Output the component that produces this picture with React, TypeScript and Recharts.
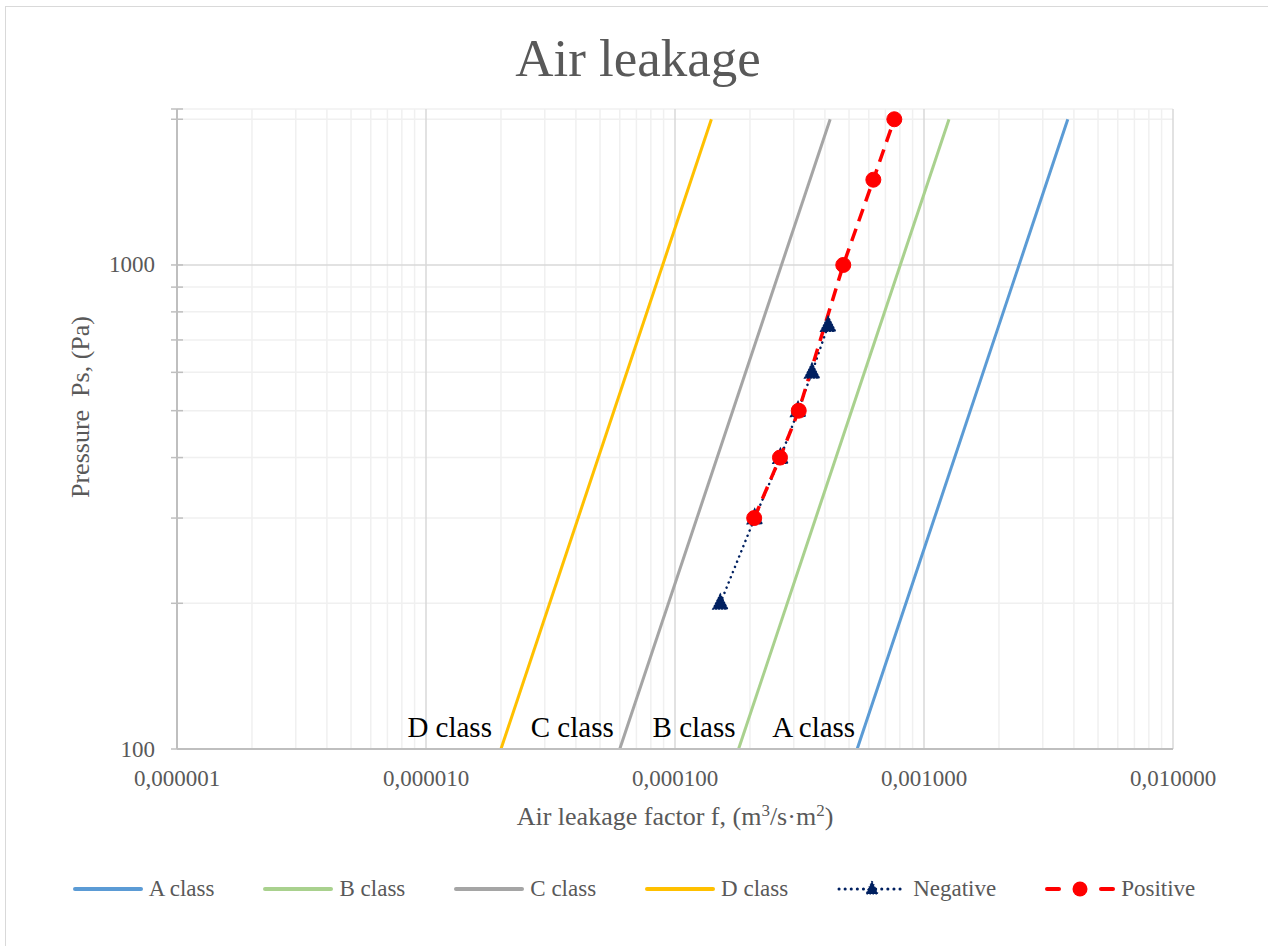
import React from 'react';
import { LineChart, Line, XAxis, YAxis, ReferenceLine } from 'recharts';

// ---------- data ----------
const aClass = [
  { f: 0.000539, p: 100 },
  { f: 0.00378, p: 2000 },
];
const bClass = [
  { f: 0.00018, p: 100 },
  { f: 0.00126, p: 2000 },
];
const cClass = [
  { f: 0.00006, p: 100 },
  { f: 0.00042, p: 2000 },
];
const dClass = [
  { f: 0.00002, p: 100 },
  { f: 0.00014, p: 2000 },
];
const negative = [
  { f: 0.000152, p: 200 },
  { f: 0.000209, p: 300 },
  { f: 0.000265, p: 400 },
  { f: 0.000312, p: 500 },
  { f: 0.000355, p: 600 },
  { f: 0.000412, p: 750 },
];
const positive = [
  { f: 0.000208, p: 300 },
  { f: 0.000264, p: 400 },
  { f: 0.000314, p: 500 },
  { f: 0.000474, p: 1000 },
  { f: 0.000626, p: 1500 },
  { f: 0.00076, p: 2000 },
];

const xMajorTicks = [0.000001, 0.00001, 0.0001, 0.001, 0.01];
const xMajorGrid = [0.00001, 0.0001, 0.001, 0.01];
const xMinorGrid = [
  0.000002, 0.000003, 0.000004, 0.000005, 0.000006, 0.000007, 0.000008, 0.000009,
  0.00002, 0.00003, 0.00004, 0.00005, 0.00006, 0.00007, 0.00008, 0.00009,
  0.0002, 0.0003, 0.0004, 0.0005, 0.0006, 0.0007, 0.0008, 0.0009,
  0.002, 0.003, 0.004, 0.005, 0.006, 0.007, 0.008, 0.009,
];
const yTicks = [100, 200, 300, 400, 500, 600, 700, 800, 900, 1000, 2000, 2100];
const yLabeled = [100, 1000];
const yMajorGrid = [1000];
const yMinorGrid = [200, 300, 400, 500, 600, 700, 800, 900, 2000, 2100];

const legendItems = [
  { name: 'A class', color: '#5B9BD5', kind: 'solid' },
  { name: 'B class', color: '#A9D18E', kind: 'solid' },
  { name: 'C class', color: '#A5A5A5', kind: 'solid' },
  { name: 'D class', color: '#FFC000', kind: 'solid' },
  { name: 'Negative', color: '#002060', kind: 'negative' },
  { name: 'Positive', color: '#FF0000', kind: 'positive' },
];

// ---------- styles ----------
const FONT = "'Times New Roman', 'Liberation Serif', serif";
const GREY_TEXT = '#595959';

const fmtX = (v: number) => v.toFixed(6).replace('.', ',');

const XTick = (props: any) => {
  const { x, y, payload } = props;
  return (
    <text x={x} y={y + 29} textAnchor="middle" dominantBaseline="central" fontFamily={FONT} fontSize={23} fill={GREY_TEXT}>
      {fmtX(payload.value)}
    </text>
  );
};

const YTick = (props: any) => {
  const { x, y, payload } = props;
  const show = yLabeled.includes(payload.value);
  return (
    <g>
      <line x1={x - 6} x2={x + 6} y1={y} y2={y} stroke="#bfbfbf" strokeWidth={1.5} />
      {show && (
        <text x={x - 22} y={y} textAnchor="end" dominantBaseline="central" fontFamily={FONT} fontSize={23} fill={GREY_TEXT}>
          {payload.value}
        </text>
      )}
    </g>
  );
};

const classLabel = (text: string, gap: number) => (props: any) => {
  const { x, y, index } = props;
  if (index !== 0) return null;
  return (
    <text key={text} x={x - gap} y={y - 12} textAnchor="end" fontFamily={FONT} fontSize={29} fill="#000000">
      {text}
    </text>
  );
};

const TriangleDot = (props: any) => {
  const { cx, cy, index } = props;
  if (cx == null || cy == null) return null;
  return (
    <polygon
      key={'t' + index}
      points={`${cx},${cy - 8.5} ${cx - 7},${cy + 5.5} ${cx + 7},${cy + 5.5}`}
      fill="#002060"
      stroke="#002060"
      strokeWidth={2}
      strokeDasharray="1 2"
      strokeLinecap="round"
    />
  );
};

const CircleDot = (props: any) => {
  const { cx, cy, index } = props;
  if (cx == null || cy == null) return null;
  return <circle key={'c' + index} cx={cx} cy={cy} r={7.5} fill="#FF0000" stroke="#FF0000" strokeWidth={1} />;
};

const LegendSample = ({ item }: { item: any }) => {
  return (
    <svg width={70} height={20} style={{ display: 'block' }}>
      {item.kind === 'solid' && (
        <line x1={2} x2={68} y1={10} y2={10} stroke={item.color} strokeWidth={4} strokeLinecap="round" />
      )}
      {item.kind === 'negative' && (
        <g>
          <line x1={2} x2={68} y1={10} y2={10} stroke={item.color} strokeWidth={3} strokeDasharray="0.1 6" strokeLinecap="round" />
          <polygon points="35,2 29,15 41,15" fill={item.color} stroke={item.color} strokeWidth={1.5} strokeDasharray="1 2" />
        </g>
      )}
      {item.kind === 'positive' && (
        <g>
          <line x1={2} x2={14} y1={10} y2={10} stroke={item.color} strokeWidth={4} strokeLinecap="round" />
          <line x1={56} x2={68} y1={10} y2={10} stroke={item.color} strokeWidth={4} strokeLinecap="round" />
          <circle cx={35} cy={10} r={7.5} fill={item.color} />
        </g>
      )}
    </svg>
  );
};

export default function App() {
  return (
    <div style={{ position: 'absolute', left: 0, top: 0, width: 1268, height: 946, background: '#ffffff', fontFamily: FONT }}>
      <div
        style={{
          position: 'absolute',
          left: 5,
          top: 6,
          width: 1263,
          height: 940,
          borderLeft: '1.5px solid #d9d9d9',
          borderTop: '1.5px solid #d9d9d9',
          boxSizing: 'border-box',
        }}
      />
      <div
        style={{
          position: 'absolute',
          left: 0,
          top: 28,
          width: 1276,
          textAlign: 'center',
          fontSize: 53,
          color: GREY_TEXT,
          fontFamily: FONT,
          lineHeight: '60px',
        }}
      >
        Air leakage
      </div>
      <div style={{ position: 'absolute', left: 0, top: 0 }}>
        <LineChart width={1268} height={946} margin={{ top: 109, right: 95, bottom: 137, left: 0 }}>
          <XAxis
            dataKey="f"
            type="number"
            scale="log"
            domain={[0.000001, 0.01]}
            ticks={xMajorTicks}
            allowDataOverflow
            interval={0}
            height={60}
            tickSize={0}
            tickMargin={0}
            tickLine={false}
            axisLine={{ stroke: '#bfbfbf', strokeWidth: 2 }}
            tick={<XTick />}
            label={{
              content: (lp: any) => {
                const vb = lp.viewBox || { x: 177, y: 749, width: 996 };
                return (
                  <text x={vb.x + vb.width / 2} y={vb.y + 76} textAnchor="middle" fontFamily={FONT} fontSize={26} fill={GREY_TEXT}>
                    Air leakage factor f, (m
                    <tspan dy={-9} fontSize={17}>3</tspan>
                    <tspan dy={9}>/s·m</tspan>
                    <tspan dy={-9} fontSize={17}>2</tspan>
                    <tspan dy={9}>)</tspan>
                  </text>
                );
              },
            }}
          />
          <YAxis
            dataKey="p"
            type="number"
            scale="log"
            domain={[100, 2100]}
            ticks={yTicks}
            allowDataOverflow
            interval={0}
            width={177}
            tickSize={0}
            tickMargin={0}
            tickLine={false}
            axisLine={{ stroke: '#bfbfbf', strokeWidth: 2 }}
            tick={<YTick />}
            label={{
              content: (lp: any) => {
                const vb = lp.viewBox || { x: 0, y: 109, width: 177, height: 640 };
                const cx = 80;
                const cy = vb.y + vb.height / 2 - 22;
                return (
                  <text
                    x={cx}
                    y={cy}
                    textAnchor="middle"
                    dominantBaseline="central"
                    transform={`rotate(-90 ${cx} ${cy})`}
                    fontFamily={FONT}
                    fontSize={26}
                    fill={GREY_TEXT}
                    style={{ whiteSpace: 'pre' }}
                  >
                    {'Pressure  Ps, (Pa)'}
                  </text>
                );
              },
            }}
          />
          {xMinorGrid.map((v) => (
            <ReferenceLine key={'xm' + v} x={v} stroke="#f0f0f0" strokeWidth={1.5} />
          ))}
          {yMinorGrid.map((v) => (
            <ReferenceLine key={'ym' + v} y={v} stroke="#f0f0f0" strokeWidth={1.5} />
          ))}
          {xMajorGrid.map((v) => (
            <ReferenceLine key={'xM' + v} x={v} stroke="#d9d9d9" strokeWidth={1.5} />
          ))}
          {yMajorGrid.map((v) => (
            <ReferenceLine key={'yM' + v} y={v} stroke="#d9d9d9" strokeWidth={1.5} />
          ))}
          <Line data={aClass} dataKey="p" name="A class" stroke="#5B9BD5" strokeWidth={3} dot={false} isAnimationActive={false} label={classLabel('A class', 2)} />
          <Line data={bClass} dataKey="p" name="B class" stroke="#A9D18E" strokeWidth={3} dot={false} isAnimationActive={false} label={classLabel('B class', 3)} />
          <Line data={cClass} dataKey="p" name="C class" stroke="#A5A5A5" strokeWidth={3} dot={false} isAnimationActive={false} label={classLabel('C class', 6)} />
          <Line data={dClass} dataKey="p" name="D class" stroke="#FFC000" strokeWidth={3} dot={false} isAnimationActive={false} label={classLabel('D class', 9)} />
          <Line
            data={negative}
            dataKey="p"
            name="Negative"
            stroke="#002060"
            strokeWidth={2.5}
            strokeDasharray="0.1 5.5"
            strokeLinecap="round"
            dot={<TriangleDot />}
            activeDot={false}
            isAnimationActive={false}
          />
          <Line
            data={positive}
            dataKey="p"
            name="Positive"
            stroke="#FF0000"
            strokeWidth={3.5}
            strokeDasharray="13 8"
            dot={<CircleDot />}
            activeDot={false}
            isAnimationActive={false}
          />
        </LineChart>
      </div>
      <div
        style={{
          position: 'absolute',
          left: 0,
          top: 876,
          width: 1268,
          display: 'flex',
          justifyContent: 'center',
          alignItems: 'center',
          gap: 49,
        }}
      >
        {legendItems.map((it) => (
          <div key={it.name} style={{ display: 'flex', alignItems: 'center' }}>
            <LegendSample item={it} />
            <span style={{ marginLeft: 6, fontSize: 23, color: GREY_TEXT, fontFamily: FONT, lineHeight: '26px' }}>{it.name}</span>
          </div>
        ))}
      </div>
    </div>
  );
}
